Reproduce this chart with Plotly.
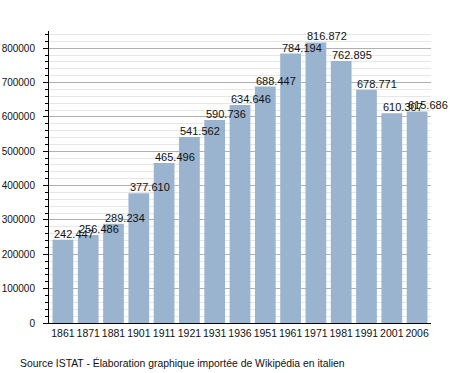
import plotly.graph_objects as go

years = ["1861", "1871", "1881", "1901", "1911", "1921", "1931", "1936",
         "1951", "1961", "1971", "1981", "1991", "2001", "2006"]
population = [242447, 256486, 289234, 377610, 465496, 541562, 590736, 634646,
              688447, 784194, 816872, 762895, 678771, 610307, 615686]
source_text = "Source ISTAT - Élaboration graphique importée de Wikipédia en italien"

FONT = "Liberation Sans, Arial, sans-serif"

fig = go.Figure()
fig.add_trace(go.Bar(
    x=list(range(len(years))), y=population,
    marker=dict(color="#9ab3cf", line=dict(width=0)),
    hovertext=years, hoverinfo="text+y",
))

for i, v in enumerate(population):
    fig.add_annotation(
        x=i, y=v, text=f"{v:,}".replace(",", "."),
        xanchor="left", yanchor="bottom", xshift=-11, yshift=-2,
        showarrow=False, font=dict(family=FONT, size=11, color="#111"),
    )

fig.add_annotation(
    x=0, y=0, xref="paper", yref="paper", xanchor="left", yanchor="middle",
    text=source_text, showarrow=False, xshift=-31, yshift=-40,
    font=dict(family=FONT, size=10.4, color="#111"),
)

fig.update_layout(
    width=458, height=373,
    margin=dict(l=49, r=27, t=31, b=50, autoexpand=False),
    paper_bgcolor="white", plot_bgcolor="white",
    bargap=0.18, showlegend=False,
    font=dict(family=FONT, size=10, color="#111"),
    xaxis=dict(
        tickmode="array", tickvals=list(range(len(years))), ticktext=years,
        showline=True, linecolor="black", linewidth=1,
        ticks="", showgrid=False, tickfont=dict(size=10.5), tickangle=0,
        range=[-0.55, 14.55], automargin=False, zeroline=False,
    ),
    yaxis=dict(
        range=[0, 850000], dtick=100000, tickformat="d",
        showline=True, linecolor="black", linewidth=1,
        ticks="outside", ticklen=5, tickcolor="black",
        showgrid=True, gridcolor="#b0b0b0", gridwidth=1,
        zeroline=False, automargin=False, ticklabelstandoff=6,
        minor=dict(dtick=20000, ticks="outside", ticklen=3, tickcolor="black",
                   showgrid=True, gridcolor="#e6e6e6", gridwidth=1),
        tickfont=dict(size=10),
    ),
)

fig.write_html("out.html", config={"displayModeBar": False},
               post_script="document.body.style.margin='0';")
